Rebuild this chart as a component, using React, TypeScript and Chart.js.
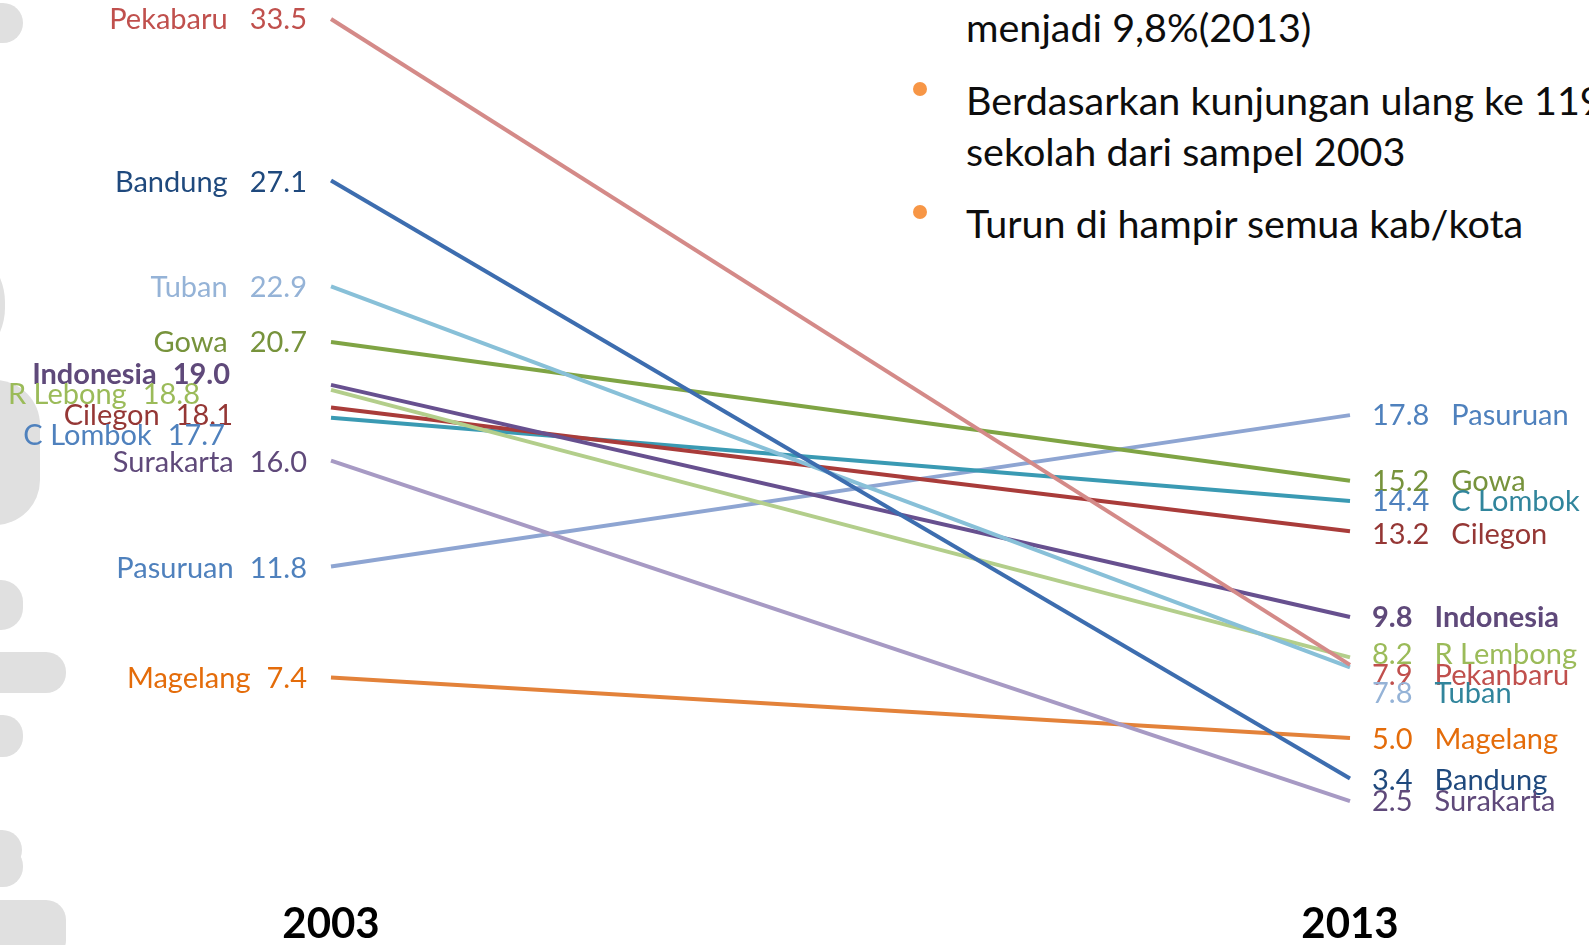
import React, { useEffect, useRef } from "react";
import { Chart, registerables } from "chart.js";

Chart.register(...registerables);

// ---------- data ----------
const categories = ["2003", "2013"];
const names2003 = ["Pekabaru", "Bandung", "Tuban", "Gowa", "Indonesia", "R Lebong", "Cilegon", "C Lombok", "Surakarta", "Pasuruan", "Magelang"];
const names2013 = ["Pekanbaru", "Bandung", "Tuban", "Gowa", "Indonesia", "R Lembong", "Cilegon", "C Lombok", "Surakarta", "Pasuruan", "Magelang"];
const values2003 = [33.5, 27.1, 22.9, 20.7, 19.0, 18.8, 18.1, 17.7, 16.0, 11.8, 7.4];
const values2013 = [7.9, 3.4, 7.8, 15.2, 9.8, 8.2, 13.2, 14.4, 2.5, 17.8, 5.0];
const bulletLines = [
  { text: "menjadi 9,8%(2013)", bullet: false },
  { text: "Berdasarkan kunjungan ulang ke 119", bullet: true },
  { text: "sekolah dari sampel 2003", bullet: false },
  { text: "Turun di hampir semua kab/kota", bullet: true },
];

// ---------- styles ----------
const lineColors = ["#d48a88", "#3d6daf", "#88c0d8", "#7fa444", "#67508f", "#b3ce8b", "#a93c3a", "#3a9ab3", "#a79ac4", "#8ea5d2", "#e3823a"];
const leftLabelColors = ["#c0504d", "#1f497d", "#95b3d7", "#77933c", "#5f497a", "#9bbb59", "#953735", "#4f81bd", "#5f497a", "#4f81bd", "#e46c0a"];
const rightValueColors = ["#c0504d", "#1f497d", "#95b3d7", "#77933c", "#5f497a", "#9bbb59", "#953735", "#4f81bd", "#5f497a", "#4f81bd", "#e46c0a"];
const rightNameColors = ["#c0504d", "#1f497d", "#31859c", "#77933c", "#5f497a", "#9bbb59", "#953735", "#31859c", "#5f497a", "#4f81bd", "#e46c0a"];
const boldSeries = [false, false, false, false, true, false, false, false, false, false, false];
const leftDx = [0, 0, 0, 0, -77, -107, -74, -82, 0, 0, 0];
const leftDy = [1, 2, 1, 1, -10, 5, 8, 18, 2, 2, 1];
const leftGap = [22, 22, 22, 22, 16, 16, 16, 16, 16, 16, 16];
const rightDy = [11, 2, 26, 1, 1, -3, 3, 1, 1, 1, 2];

const FONT = "Lato, 'Open Sans', sans-serif";
const LABEL_SIZE = 29;

const labelPlugin = {
  id: "slopeLabels",
  afterDatasetsDraw(chart: any) {
    const ctx = chart.ctx;
    const xs = chart.scales.x;
    const ys = chart.scales.y;
    const xL = xs.getPixelForValue(0);
    const xR = xs.getPixelForValue(1);
    ctx.save();
    ctx.textBaseline = "middle";
    for (let i = 0; i < names2003.length; i++) {
      const weight = boldSeries[i] ? "bold " : "";
      ctx.font = `${weight}${LABEL_SIZE}px ${FONT}`;
      // left
      const yl = ys.getPixelForValue(values2003[i]) + leftDy[i];
      const vL = values2003[i].toFixed(1);
      const xr = xL - 24 + leftDx[i];
      ctx.fillStyle = leftLabelColors[i];
      ctx.textAlign = "right";
      ctx.fillText(vL, xr, yl);
      const wv = ctx.measureText(vL).width;
      ctx.fillText(names2003[i], xr - wv - leftGap[i], yl);
      // right
      const yr = ys.getPixelForValue(values2013[i]) + rightDy[i];
      const vR = values2013[i].toFixed(1);
      const xl = xR + 22;
      ctx.textAlign = "left";
      ctx.fillStyle = rightValueColors[i];
      ctx.fillText(vR, xl, yr);
      const wr = ctx.measureText(vR).width;
      ctx.fillStyle = rightNameColors[i];
      ctx.fillText(names2013[i], xl + wr + 22, yr);
    }
    ctx.restore();
  },
};

const grayShapes = [
  { left: -40, top: 3, width: 63, height: 40, radius: 20 },
  { left: -120, top: 240, width: 125, height: 130, radius: 65 },
  { left: -80, top: 380, width: 120, height: 145, radius: 45 },
  { left: -40, top: 580, width: 63, height: 50, radius: 22 },
  { left: -40, top: 652, width: 106, height: 41, radius: 20 },
  { left: -40, top: 715, width: 63, height: 42, radius: 20 },
  { left: -40, top: 830, width: 62, height: 40, radius: 20 },
  { left: -40, top: 846, width: 63, height: 41, radius: 20 },
  { left: -40, top: 900, width: 106, height: 60, radius: 20 },
];

export default function App() {
  const canvasRef = useRef<HTMLCanvasElement | null>(null);

  useEffect(() => {
    if (!canvasRef.current) return;
    const chart = new Chart(canvasRef.current, {
      type: "line",
      data: {
        labels: categories,
        datasets: names2003.map((n, i) => ({
          label: n,
          data: [values2003[i], values2013[i]],
          borderColor: lineColors[i],
          backgroundColor: lineColors[i],
          borderWidth: 4,
          pointRadius: 0,
          tension: 0,
          fill: false,
        })),
      },
      options: {
        responsive: false,
        animation: false,
        layout: { padding: { left: 331, right: 239, top: 6.4, bottom: 0 } },
        plugins: { legend: { display: false }, tooltip: { enabled: false } },
        scales: {
          x: {
            type: "category",
            offset: false,
            grid: { display: false, drawTicks: false },
            border: { display: false },
            ticks: {
              color: "#000000",
              font: { family: FONT, size: 42, weight: "bold", lineHeight: 1 },
              padding: 38.8,
              maxRotation: 0,
              autoSkip: false,
            },
            afterFit: (scale: any) => {
              scale.height = 80.8;
            },
          },
          y: {
            display: false,
            min: 0,
            max: 34,
          },
        },
      },
      plugins: [labelPlugin],
    });
    return () => chart.destroy();
  }, []);

  return (
    <div style={{ position: "absolute", left: 0, top: 0, width: 1589, height: 945, overflow: "hidden", background: "#ffffff" }}>
      {grayShapes.map((s, i) => (
        <div
          key={i}
          style={{
            position: "absolute",
            left: s.left,
            top: s.top,
            width: s.width,
            height: s.height,
            borderRadius: s.radius,
            background: "#e0e0e0",
          }}
        />
      ))}
      {bulletLines.map((l, i) => {
        const tops = [27, 100, 151, 223];
        return (
          <div
            key={i}
            style={{
              position: "absolute",
              left: 966,
              top: tops[i] - 24,
              height: 48,
              lineHeight: "48px",
              fontFamily: FONT,
              fontSize: 39.5,
              color: "#0d0d0d",
              whiteSpace: "nowrap",
            }}
          >
            {l.bullet && (
              <span
                style={{
                  position: "absolute",
                  left: -53,
                  top: 6,
                  width: 14,
                  height: 14,
                  borderRadius: 7,
                  background: "#f79646",
                }}
              />
            )}
            {l.text}
          </div>
        );
      })}
      <canvas ref={canvasRef} width={1589} height={945} style={{ position: "absolute", left: 0, top: 0 }} />
    </div>
  );
}
